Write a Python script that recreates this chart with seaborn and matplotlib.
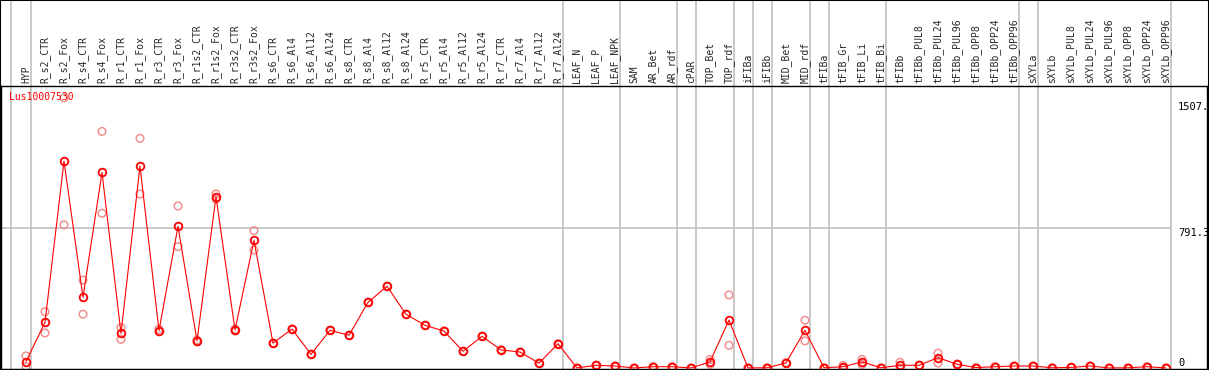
import matplotlib
matplotlib.use('Agg')
import matplotlib.pyplot as plt
import seaborn as sns
import numpy as np
import pandas as pd
from matplotlib.patches import Rectangle

GENE = 'Lus10007530'

samples = [
    'HYP',
    'R_s2_CTR', 'R_s2_Fox', 'R_s4_CTR', 'R_s4_Fox', 'R_r1_CTR', 'R_r1_Fox',
    'R_r3_CTR', 'R_r3_Fox', 'R_r1s2_CTR', 'R_r1s2_Fox', 'R_r3s2_CTR', 'R_r3s2_Fox',
    'R_s6_CTR', 'R_s6_Al4', 'R_s6_Al12', 'R_s6_Al24',
    'R_s8_CTR', 'R_s8_Al4', 'R_s8_Al12', 'R_s8_Al24',
    'R_r5_CTR', 'R_r5_Al4', 'R_r5_Al12', 'R_r5_Al24',
    'R_r7_CTR', 'R_r7_Al4', 'R_r7_Al12', 'R_r7_Al24',
    'LEAF_N', 'LEAF_P', 'LEAF_NPK',
    'SAM', 'AR_Bet', 'AR_rdf',
    'cPAR',
    'TOP_Bet', 'TOP_rdf',
    'iFIBa',
    'iFIBb',
    'MID_Bet', 'MID_rdf',
    'tFIBa',
    'tFIB_Gr', 'tFIB_Li', 'tFIB_Bi',
    'tFIBb', 'tFIBb_PUL8', 'tFIBb_PUL24', 'tFIBb_PUL96',
    'tFIBb_OPP8', 'tFIBb_OPP24', 'tFIBb_OPP96',
    'sXYLa',
    'sXYLb', 'sXYLb_PUL8', 'sXYLb_PUL24', 'sXYLb_PUL96',
    'sXYLb_OPP8', 'sXYLb_OPP24', 'sXYLb_OPP96',
]

# number of samples in each tissue group (separated by grey lines)
group_sizes = [1, 28, 3, 3, 1, 2, 1, 1, 2, 1, 3, 7, 1, 7]

# mean expression per sample
mean_expr = [
    36, 258, 1170, 400, 1106, 196, 1142, 211, 801, 153, 969, 215, 722,
    140, 220, 77, 213, 185, 371, 462, 304, 241, 209, 94, 179, 102, 90, 27, 137,
    0, 15, 11,
    0, 7, 7,
    0,
    34, 271,
    0,
    1,
    28, 213,
    1,
    7, 34, 1,
    15, 15, 58, 21, 2, 7, 11,
    11,
    1, 3, 11, 0, 1, 7, 0,
]

# the two replicates per sample
rep_a = [
    68, 318, 1528, 497, 1338, 228, 1299, 219, 916, 158, 984, 220, 777,
    140, 220, 77, 213, 185, 371, 462, 304, 241, 209, 94, 179, 102, 90, 27, 137,
    0, 15, 11,
    0, 7, 7,
    0,
    48, 413,
    0,
    1,
    30, 270,
    1,
    14, 48, 1,
    32, 15, 84, 21, 2, 7, 11,
    11,
    1, 3, 11, 0, 1, 7, 0,
]
rep_b = [
    7, 198, 810, 304, 875, 162, 984, 205, 686, 148, 955, 210, 667,
    140, 220, 77, 213, 185, 371, 462, 304, 241, 209, 94, 179, 102, 90, 27, 137,
    0, 15, 11,
    0, 7, 7,
    0,
    20, 128,
    0,
    1,
    26, 153,
    1,
    0, 20, 1,
    0, 15, 28, 21, 2, 7, 11,
    11,
    1, 3, 11, 0, 1, 7, 0,
]

y_marks = [1507.0, 791.3, 0.0]
y_mark_labels = ['1507.', '791.3', '0']


def main():
    sns.set_style('white')
    plt.rcParams['font.family'] = ['DejaVu Sans Mono', 'DejaVu Sans']

    W, H = 1209, 370
    fig = plt.figure(figsize=(W / 100, H / 100), dpi=100)
    ax = fig.add_axes([1 / W, 1 / H, 1206 / W, 283 / H])

    x = np.arange(len(samples))
    xmin, xmax = -1.316, 62.16
    ax.set_xlim(xmin, xmax)
    ax.set_ylim(-6, 1595)

    # group separators, running up through the label area
    ends = np.cumsum(group_sizes) - 1
    seps = [-0.8] + list(ends + 0.25)
    for s in seps:
        ax.axvline(s, ymin=0, ymax=369 / 283, color='#c0c0c0', lw=1.2,
                   clip_on=False, zorder=0.5)
    ax.hlines(y_marks[1], xmin, seps[-1], color='#c0c0c0', lw=1.2, zorder=0.5)

    reps = pd.DataFrame({'pos': np.concatenate([x, x]),
                         'expr': rep_a + rep_b})
    sns.scatterplot(data=reps, x='pos', y='expr', ax=ax, marker='o', s=30,
                    facecolor='none', edgecolor='#f09090', linewidth=1.1,
                    zorder=2)

    means = pd.DataFrame({'pos': x, 'expr': mean_expr})
    sns.lineplot(data=means, x='pos', y='expr', ax=ax, color='red', lw=0.8,
                 marker='o', markersize=5.5, markerfacecolor='none',
                 markeredgecolor='red', markeredgewidth=1.3, zorder=3)

    ax.xaxis.tick_top()
    ax.set_xticks(x)
    ax.set_xticklabels(samples, rotation=90, fontsize=7)
    ax.tick_params(axis='x', length=0, pad=2.2, top=True, bottom=False,
                   labeltop=True, labelbottom=False)
    ax.set_yticks([])
    ax.set_xlabel('')
    ax.set_ylabel('')
    ax.grid(False)

    for sp in ax.spines.values():
        sp.set_color('black')
        sp.set_linewidth(1.0)

    # value marks at the right edge
    for v, lab in zip(y_marks, y_mark_labels):
        va = 'bottom' if v == 0 else 'top'
        ax.text(0.976, v, lab, transform=ax.get_yaxis_transform(),
                ha='left', va=va, fontsize=7.5, color='black')

    ax.text(0.007, 0.961, GENE, transform=ax.transAxes, ha='left',
            va='center', fontsize=7, color='red', zorder=4)

    fig.add_artist(Rectangle((0, 0), 1, 1, transform=fig.transFigure,
                             fill=False, edgecolor='black', lw=1.5))

    fig.savefig('out.png', dpi=100)
    plt.close(fig)


if __name__ == '__main__':
    main()
